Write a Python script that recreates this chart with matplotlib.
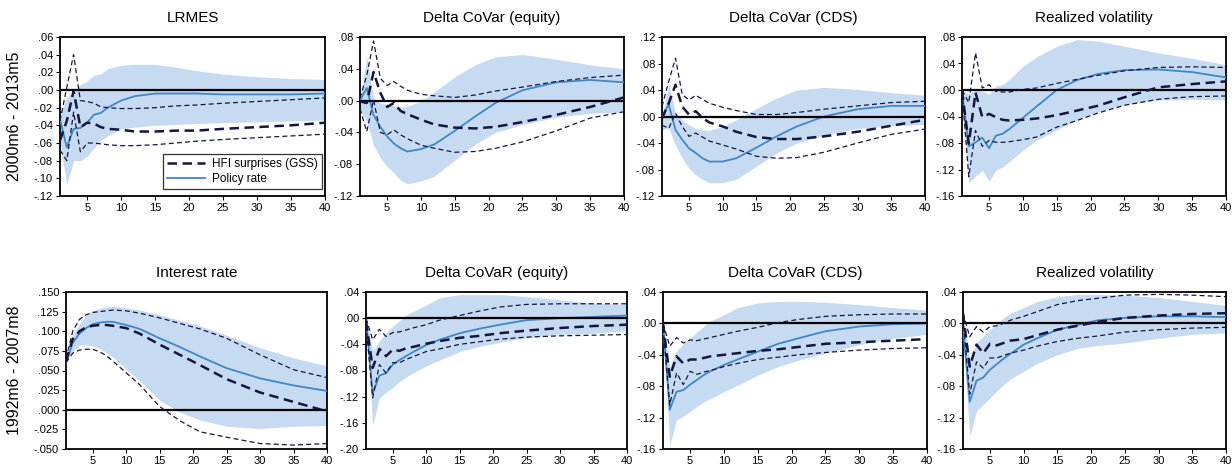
import matplotlib
matplotlib.use("Agg")
import matplotlib.pyplot as plt
from matplotlib.ticker import FuncFormatter
from matplotlib.lines import Line2D
import numpy as np

plt.rcParams['font.family'] = ['Liberation Sans', 'DejaVu Sans']

# horizons (months)
H = [1, 2, 3, 4, 5, 6, 7, 8, 10, 12, 15, 18, 21, 25, 30, 35, 40]

titles_top = ["LRMES", "Delta CoVar (equity)", "Delta CoVar (CDS)", "Realized volatility"]
titles_bot = ["Interest rate", "Delta CoVaR (equity)", "Delta CoVaR (CDS)", "Realized volatility"]
row_labels = ["2000m6 - 2013m5", "1992m6 - 2007m8"]
legend_labels = ["HFI surprises (GSS)", "Policy rate"]

# ---- Top row: 2000m6 - 2013m5 ----
lrmes_pol    = [-0.033,-0.065,-0.044,-0.043,-0.037,-0.028,-0.026,-0.020,-0.012,-0.007,-0.004,-0.004,-0.004,-0.005,-0.005,-0.005,-0.004]
lrmes_pol_hi = [-0.027,-0.009,-0.001,0.006,0.010,0.017,0.018,0.024,0.028,0.029,0.029,0.026,0.022,0.018,0.015,0.013,0.012]
lrmes_pol_lo = [-0.059,-0.107,-0.080,-0.080,-0.075,-0.066,-0.057,-0.052,-0.044,-0.042,-0.040,-0.039,-0.038,-0.037,-0.036,-0.035,-0.034]
lrmes_hfi    = [-0.057,-0.035,-0.001,-0.042,-0.037,-0.038,-0.042,-0.044,-0.045,-0.047,-0.047,-0.046,-0.046,-0.044,-0.042,-0.040,-0.037]
lrmes_hfi_hi = [-0.035,0.003,0.040,-0.012,-0.013,-0.015,-0.019,-0.020,-0.021,-0.021,-0.020,-0.018,-0.017,-0.015,-0.013,-0.011,-0.009]
lrmes_hfi_lo = [-0.068,-0.080,-0.025,-0.070,-0.060,-0.060,-0.061,-0.062,-0.063,-0.063,-0.062,-0.060,-0.058,-0.056,-0.054,-0.052,-0.050]

coveq_pol    = [0.000,0.016,-0.018,-0.033,-0.045,-0.054,-0.060,-0.064,-0.061,-0.055,-0.038,-0.020,-0.003,0.013,0.023,0.026,0.023]
coveq_pol_hi = [0.000,0.055,0.003,-0.003,-0.005,-0.006,-0.008,-0.007,-0.001,0.011,0.030,0.045,0.055,0.058,0.052,0.045,0.040]
coveq_pol_lo = [-0.012,-0.026,-0.056,-0.072,-0.083,-0.091,-0.100,-0.105,-0.101,-0.095,-0.075,-0.055,-0.040,-0.030,-0.021,-0.016,-0.014]
coveq_hfi    = [-0.001,-0.003,0.036,0.010,-0.008,-0.003,-0.013,-0.017,-0.024,-0.030,-0.034,-0.035,-0.033,-0.027,-0.018,-0.008,0.004]
coveq_hfi_hi = [0.003,0.032,0.075,0.028,0.019,0.024,0.018,0.013,0.008,0.006,0.004,0.007,0.012,0.017,0.024,0.029,0.032]
coveq_hfi_lo = [-0.010,-0.039,0.001,-0.040,-0.043,-0.037,-0.043,-0.048,-0.056,-0.060,-0.065,-0.064,-0.060,-0.052,-0.038,-0.022,-0.014]

covcds_pol    = [0.000,0.018,-0.020,-0.035,-0.048,-0.055,-0.063,-0.068,-0.068,-0.063,-0.047,-0.030,-0.015,0.000,0.011,0.016,0.016]
covcds_pol_hi = [0.000,0.048,0.005,-0.005,-0.013,-0.018,-0.020,-0.021,-0.015,-0.005,0.012,0.028,0.040,0.044,0.041,0.036,0.032]
covcds_pol_lo = [-0.020,-0.018,-0.043,-0.063,-0.078,-0.088,-0.095,-0.100,-0.100,-0.095,-0.075,-0.055,-0.040,-0.028,-0.018,-0.014,-0.012]
covcds_hfi    = [-0.003,0.020,0.048,0.015,0.003,0.008,-0.002,-0.009,-0.015,-0.023,-0.031,-0.034,-0.034,-0.030,-0.023,-0.014,-0.005]
covcds_hfi_hi = [0.015,0.053,0.088,0.033,0.025,0.032,0.026,0.020,0.014,0.009,0.003,0.003,0.006,0.011,0.016,0.021,0.023]
covcds_hfi_lo = [-0.013,-0.018,0.005,-0.015,-0.030,-0.025,-0.031,-0.037,-0.043,-0.049,-0.060,-0.063,-0.062,-0.054,-0.040,-0.027,-0.019]

rv1_pol    = [-0.002,-0.085,-0.079,-0.072,-0.088,-0.069,-0.066,-0.059,-0.042,-0.025,0.000,0.015,0.024,0.030,0.031,0.027,0.019]
rv1_pol_hi = [0.000,-0.006,0.000,-0.002,-0.006,0.006,0.008,0.016,0.036,0.050,0.066,0.076,0.074,0.066,0.056,0.048,0.038]
rv1_pol_lo = [-0.026,-0.140,-0.130,-0.121,-0.138,-0.121,-0.116,-0.108,-0.091,-0.076,-0.060,-0.045,-0.033,-0.022,-0.015,-0.014,-0.015]
rv1_hfi    = [-0.001,-0.081,-0.004,-0.041,-0.036,-0.041,-0.045,-0.046,-0.045,-0.043,-0.038,-0.031,-0.024,-0.011,0.004,0.009,0.013]
rv1_hfi_hi = [0.000,-0.019,0.056,0.003,0.008,-0.002,-0.003,-0.003,0.001,0.003,0.010,0.016,0.022,0.029,0.034,0.035,0.034]
rv1_hfi_lo = [-0.002,-0.131,-0.061,-0.085,-0.076,-0.079,-0.079,-0.078,-0.075,-0.071,-0.056,-0.046,-0.035,-0.023,-0.014,-0.010,-0.009]

# ---- Bottom row: 1992m6 - 2007m8 ----
ir_pol    = [0.060,0.085,0.097,0.104,0.109,0.111,0.112,0.112,0.108,0.103,0.091,0.080,0.068,0.053,0.040,0.031,0.024]
ir_pol_hi = [0.065,0.095,0.110,0.120,0.126,0.129,0.131,0.132,0.130,0.127,0.121,0.114,0.107,0.095,0.079,0.066,0.056]
ir_pol_lo = [0.060,0.075,0.082,0.083,0.081,0.078,0.073,0.067,0.052,0.037,0.012,-0.003,-0.013,-0.021,-0.024,-0.021,-0.020]
ir_hfi    = [0.062,0.090,0.100,0.105,0.107,0.108,0.108,0.107,0.104,0.097,0.083,0.070,0.057,0.039,0.022,0.010,-0.002]
ir_hfi_hi = [0.065,0.100,0.115,0.121,0.124,0.125,0.126,0.127,0.126,0.123,0.117,0.110,0.103,0.091,0.070,0.051,0.041]
ir_hfi_lo = [0.060,0.072,0.076,0.077,0.077,0.074,0.069,0.062,0.047,0.032,0.004,-0.014,-0.028,-0.035,-0.043,-0.045,-0.043]

coveq2_pol    = [0.000,-0.115,-0.088,-0.084,-0.071,-0.064,-0.058,-0.052,-0.041,-0.033,-0.023,-0.016,-0.010,-0.003,0.000,0.002,0.004]
coveq2_pol_hi = [0.000,-0.050,-0.035,-0.022,-0.012,-0.004,0.005,0.010,0.020,0.031,0.036,0.036,0.036,0.033,0.028,0.023,0.021]
coveq2_pol_lo = [0.000,-0.165,-0.122,-0.113,-0.106,-0.097,-0.090,-0.084,-0.073,-0.064,-0.051,-0.043,-0.037,-0.030,-0.025,-0.023,-0.019]
coveq2_hfi    = [-0.005,-0.076,-0.047,-0.058,-0.048,-0.050,-0.046,-0.044,-0.039,-0.035,-0.030,-0.027,-0.023,-0.019,-0.015,-0.012,-0.010]
coveq2_hfi_hi = [0.000,-0.033,-0.017,-0.028,-0.022,-0.021,-0.018,-0.015,-0.010,-0.003,0.004,0.011,0.017,0.021,0.022,0.022,0.022]
coveq2_hfi_lo = [-0.010,-0.122,-0.071,-0.084,-0.068,-0.068,-0.063,-0.059,-0.051,-0.047,-0.040,-0.036,-0.032,-0.029,-0.027,-0.026,-0.025]

covcds2_pol    = [0.000,-0.110,-0.087,-0.085,-0.078,-0.072,-0.066,-0.061,-0.053,-0.046,-0.036,-0.026,-0.019,-0.010,-0.004,-0.001,0.000]
covcds2_pol_hi = [0.000,-0.055,-0.035,-0.026,-0.019,-0.011,-0.004,0.003,0.011,0.020,0.026,0.028,0.028,0.027,0.024,0.020,0.017]
covcds2_pol_lo = [0.000,-0.155,-0.123,-0.118,-0.112,-0.106,-0.100,-0.096,-0.087,-0.079,-0.066,-0.055,-0.047,-0.038,-0.027,-0.019,-0.014]
covcds2_hfi    = [0.000,-0.068,-0.042,-0.051,-0.046,-0.046,-0.044,-0.042,-0.040,-0.038,-0.035,-0.033,-0.030,-0.026,-0.024,-0.022,-0.020]
covcds2_hfi_hi = [0.000,-0.029,-0.018,-0.025,-0.021,-0.022,-0.020,-0.018,-0.014,-0.010,-0.005,0.001,0.005,0.009,0.011,0.012,0.012]
covcds2_hfi_lo = [-0.005,-0.104,-0.063,-0.078,-0.061,-0.065,-0.062,-0.060,-0.055,-0.051,-0.046,-0.043,-0.040,-0.037,-0.034,-0.032,-0.031]

rv2_pol    = [-0.005,-0.100,-0.073,-0.069,-0.059,-0.052,-0.045,-0.039,-0.027,-0.019,-0.008,-0.002,0.004,0.007,0.009,0.009,0.008]
rv2_pol_hi = [0.012,-0.045,-0.025,-0.016,-0.008,0.000,0.007,0.013,0.020,0.028,0.034,0.037,0.037,0.036,0.033,0.028,0.023]
rv2_pol_lo = [-0.015,-0.144,-0.112,-0.103,-0.095,-0.086,-0.078,-0.071,-0.061,-0.051,-0.040,-0.032,-0.028,-0.025,-0.019,-0.014,-0.012]
rv2_hfi    = [0.013,-0.055,-0.027,-0.038,-0.026,-0.028,-0.025,-0.022,-0.020,-0.015,-0.008,-0.003,0.002,0.007,0.010,0.012,0.013]
rv2_hfi_hi = [0.013,-0.017,-0.004,-0.011,-0.004,-0.003,0.000,0.004,0.009,0.015,0.024,0.029,0.032,0.036,0.037,0.036,0.034]
rv2_hfi_lo = [0.007,-0.090,-0.049,-0.057,-0.044,-0.044,-0.041,-0.038,-0.034,-0.029,-0.023,-0.019,-0.016,-0.011,-0.008,-0.006,-0.005]

# y-axis ticks per panel
yticks_top = [np.arange(-0.12, 0.0601, 0.02), np.arange(-0.12, 0.0801, 0.04),
              np.arange(-0.12, 0.1201, 0.04), np.arange(-0.16, 0.0801, 0.04)]
yticks_bot = [np.arange(-0.05, 0.1501, 0.025), np.arange(-0.20, 0.0401, 0.04),
              np.arange(-0.16, 0.0401, 0.04), np.arange(-0.16, 0.0401, 0.04)]
ydec_top = [2, 2, 2, 2]
ydec_bot = [3, 2, 2, 2]

top_data = [
    (lrmes_pol, lrmes_pol_lo, lrmes_pol_hi, lrmes_hfi, lrmes_hfi_lo, lrmes_hfi_hi),
    (coveq_pol, coveq_pol_lo, coveq_pol_hi, coveq_hfi, coveq_hfi_lo, coveq_hfi_hi),
    (covcds_pol, covcds_pol_lo, covcds_pol_hi, covcds_hfi, covcds_hfi_lo, covcds_hfi_hi),
    (rv1_pol, rv1_pol_lo, rv1_pol_hi, rv1_hfi, rv1_hfi_lo, rv1_hfi_hi),
]
bot_data = [
    (ir_pol, ir_pol_lo, ir_pol_hi, ir_hfi, ir_hfi_lo, ir_hfi_hi),
    (coveq2_pol, coveq2_pol_lo, coveq2_pol_hi, coveq2_hfi, coveq2_hfi_lo, coveq2_hfi_hi),
    (covcds2_pol, covcds2_pol_lo, covcds2_pol_hi, covcds2_hfi, covcds2_hfi_lo, covcds2_hfi_hi),
    (rv2_pol, rv2_pol_lo, rv2_pol_hi, rv2_hfi, rv2_hfi_lo, rv2_hfi_hi),
]

BAND = "#c6daf2"
POL = "#3f87c8"
NAVY = "#15163f"

W, Hpx = 1232, 468
fig = plt.figure(figsize=(W / 100, Hpx / 100), dpi=100)
fig.patch.set_facecolor("white")

top_cols = [(60, 325), (360, 624), (662, 925), (962, 1226)]
bot_cols = [(66, 327), (366, 627), (663, 927), (963, 1226)]
top_rows = (37, 196)
bot_rows = (292, 449)


def fmt_factory(dec):
    def f(v, pos):
        s = f"{v:.{dec}f}"
        if s.startswith("-0"):
            s = "-" + s[2:]
        elif s.startswith("0"):
            s = s[1:]
        if s.startswith("-") and float(s) == 0:
            s = s[1:]
        return s
    return FuncFormatter(f)


def make_ax(col, row):
    x0, x1 = col
    y0, y1 = row
    return fig.add_axes([x0 / W, 1 - y1 / Hpx, (x1 - x0) / W, (y1 - y0) / Hpx])


def draw(ax, data, title, yt, dec):
    pol, lo, hi, hfi, hlo, hhi = data
    ax.fill_between(H, lo, hi, color=BAND, lw=0, zorder=1)
    ax.plot(H, pol, color=POL, lw=1.3, zorder=3)
    ax.axhline(0, color="black", lw=1.6, zorder=4)
    ax.plot(H, hlo, color=NAVY, lw=0.9, dashes=(4, 2.5), zorder=5)
    ax.plot(H, hhi, color=NAVY, lw=0.9, dashes=(4, 2.5), zorder=5)
    ax.plot(H, hfi, color=NAVY, lw=1.8, dashes=(3.8, 2.2), zorder=6)
    ax.set_xlim(1, 40)
    ax.set_ylim(yt[0], yt[-1])
    ax.set_xticks([5, 10, 15, 20, 25, 30, 35, 40])
    ax.set_yticks(yt)
    ax.yaxis.set_major_formatter(fmt_factory(dec))
    ax.tick_params(axis="both", labelsize=8, length=3, width=0.8, pad=2, direction="out")
    for sp in ax.spines.values():
        sp.set_linewidth(1.3)
        sp.set_color("black")
    ax.set_title(title, fontsize=11, pad=11)


axes_top = []
for i in range(4):
    ax = make_ax(top_cols[i], top_rows)
    draw(ax, top_data[i], titles_top[i], yticks_top[i], ydec_top[i])
    axes_top.append(ax)
axes_bot = []
for i in range(4):
    ax = make_ax(bot_cols[i], bot_rows)
    draw(ax, bot_data[i], titles_bot[i], yticks_bot[i], ydec_bot[i])
    axes_bot.append(ax)

axes_top[0].set_ylabel(row_labels[0], fontsize=11.5)
axes_bot[0].set_ylabel(row_labels[1], fontsize=11.5)
axes_top[0].yaxis.set_label_coords((22 - 60) / 265, 0.5)
axes_bot[0].yaxis.set_label_coords((22 - 66) / 261, 0.5)

handles = [Line2D([], [], color=NAVY, lw=1.8, dashes=(3.8, 2.2)),
           Line2D([], [], color=POL, lw=1.3)]
leg = axes_top[0].legend(handles, legend_labels, loc="lower right",
                         bbox_to_anchor=(0.99, 0.045), borderaxespad=0,
                         fontsize=8.5, frameon=True, fancybox=False,
                         handlelength=3.2, handletextpad=0.6, labelspacing=0.25,
                         borderpad=0.35)
leg.get_frame().set_edgecolor("black")
leg.get_frame().set_linewidth(0.9)
leg.set_zorder(10)

fig.savefig("out.png", dpi=100)
